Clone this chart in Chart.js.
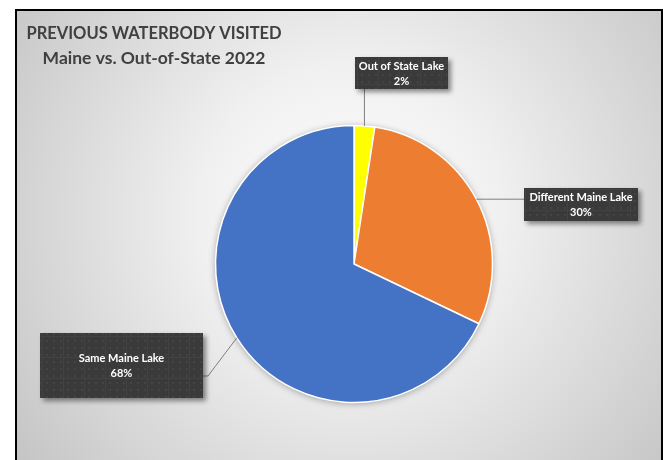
<!DOCTYPE html>
<html>
<head>
<meta charset="utf-8">
<script src="https://cdn.jsdelivr.net/npm/chart.js@4.4.0/dist/chart.umd.min.js"></script>
<style>
  html, body { margin: 0; padding: 0; background: #fff; }
  #wrap { width: 663px; height: 460px; }
</style>
</head>
<body>
<div id="wrap"><canvas id="waterbody" width="663" height="460"></canvas></div>
<script>
// Data
var categories = ['Out of State Lake', 'Different Maine Lake', 'Same Maine Lake']
var shares = [2.4, 29.7, 67.9]
var percentLabels = ['2%', '30%', '68%']
var sliceColors = ['#FFFF00', '#ED7D31', '#4472C4']
var titleLines = ['PREVIOUS WATERBODY VISITED', 'Maine vs. Out-of-State 2022']

// where the dark label boxes sit
var labelBoxes = [
    {x: 355, y: 57, w: 93, h: 32, side: 'bottom'},
    {x: 524, y: 188, w: 114, h: 33, side: 'left'},
    {x: 40, y: 333, w: 163, h: 65, side: 'right', elbowX: 208, attachY: 376}
]

// dotted dark texture for the label boxes
function makePattern(ctx) {
    var c = document.createElement('canvas')
    c.width = 21; c.height = 21
    var p = c.getContext('2d')
    p.fillStyle = '#3a3a3a'
    p.fillRect(0, 0, 21, 21)
    p.fillStyle = '#424242'
    p.fillRect(0, 0, 21, 1)
    p.fillRect(0, 0, 1, 21)
    p.fillStyle = '#444444'
    for (let i = 0; i < 3; i++) {
        for (let j = 0; j < 3; j++) {
            p.fillRect(4 + i * 7, 4 + j * 7, 2, 2)
        }
    }
    return ctx.createPattern(c, 'repeat')
}

var frame = {
    id: 'frame',
    beforeDraw(chart) {
        var ctx = chart.ctx
        ctx.save()
        ctx.fillStyle = '#fff'
        ctx.fillRect(0, 0, chart.width, chart.height)
        var g = ctx.createRadialGradient(350, 215, 0, 350, 215, 430)
        g.addColorStop(0, '#ffffff')
        g.addColorStop(0.35, '#f0f0f0')
        g.addColorStop(1, '#c2c2c2')
        ctx.fillStyle = g
        ctx.fillRect(16, 10, 646, 460)
        ctx.strokeStyle = '#000'
        ctx.lineWidth = 2
        ctx.strokeRect(16, 10, 646, 470)
        // title
        ctx.fillStyle = '#404040'
        ctx.textAlign = 'center'
        ctx.textBaseline = 'middle'
        ctx.font = 'bold 16.5px Lato, "Open Sans", sans-serif'
        ctx.fillText(titleLines[0], 154, 34)
        ctx.font = 'bold 17.5px Lato, "Open Sans", sans-serif'
        ctx.fillText(titleLines[1], 154, 58)
        ctx.restore()
    },
    beforeDatasetsDraw(chart) {
        var arc = chart.getDatasetMeta(0).data[0]
        if (!arc) return
        var ctx = chart.ctx
        ctx.save()
        ctx.shadowColor = 'rgba(0,0,0,0.35)'
        ctx.shadowBlur = 7
        ctx.shadowOffsetY = 1
        ctx.fillStyle = '#ccc'
        ctx.beginPath()
        ctx.arc(arc.x, arc.y, arc.outerRadius, 0, Math.PI * 2)
        ctx.fill()
        ctx.restore()
    },
    afterDatasetsDraw(chart) {
        var ctx = chart.ctx
        var arcs = chart.getDatasetMeta(0).data
        var pattern = makePattern(ctx)
        ctx.save()
        for (let i = 0; i < arcs.length; i++) {
            var a = arcs[i]
            var b = labelBoxes[i]
            var mid = (a.startAngle + a.endAngle) / 2
            var ax = a.x + a.outerRadius * Math.cos(mid)
            var ay = a.y + a.outerRadius * Math.sin(mid)
            // leader line
            ctx.strokeStyle = '#7f7f7f'
            ctx.lineWidth = 1
            ctx.beginPath()
            ctx.moveTo(ax, ay)
            if (b.side == 'bottom') ctx.lineTo(ax, b.y + b.h)
            else if (b.side == 'left') ctx.lineTo(b.x, ay)
            else {
                ctx.lineTo(b.elbowX, b.attachY)
                ctx.lineTo(b.x + b.w, b.attachY)
            }
            ctx.stroke()
            // box with shadow
            ctx.save()
            ctx.shadowColor = 'rgba(0,0,0,0.45)'
            ctx.shadowBlur = 5
            ctx.shadowOffsetX = 3
            ctx.shadowOffsetY = 3
            ctx.fillStyle = pattern
            ctx.fillRect(b.x, b.y, b.w, b.h)
            ctx.restore()
            // text
            var cx = b.x + b.w / 2
            var cy = b.y + b.h / 2
            ctx.fillStyle = '#fff'
            ctx.font = 'bold 11px Lato, "Open Sans", sans-serif'
            ctx.textAlign = 'center'
            ctx.textBaseline = 'middle'
            ctx.fillText(categories[i], cx, cy - 7)
            ctx.fillText(percentLabels[i], cx, cy + 8)
        }
        ctx.restore()
    }
}

var ctx = document.getElementById('waterbody').getContext('2d')
var pieChart = new Chart(ctx, {
    type: 'pie',
    data: {
        labels: categories,
        datasets: [{
            data: shares,
            backgroundColor: sliceColors,
            borderColor: '#ffffff',
            borderWidth: 1.5,
        }],
    },
    options: {
        responsive: false,
        animation: false,
        radius: 138.5,
        layout: {padding: {left: 60, right: 15, top: 80, bottom: 12}},
        plugins: {
            legend: {display: false},
            tooltip: {enabled: false},
        },
    },
    plugins: [frame],
})
</script>
</body>
</html>
